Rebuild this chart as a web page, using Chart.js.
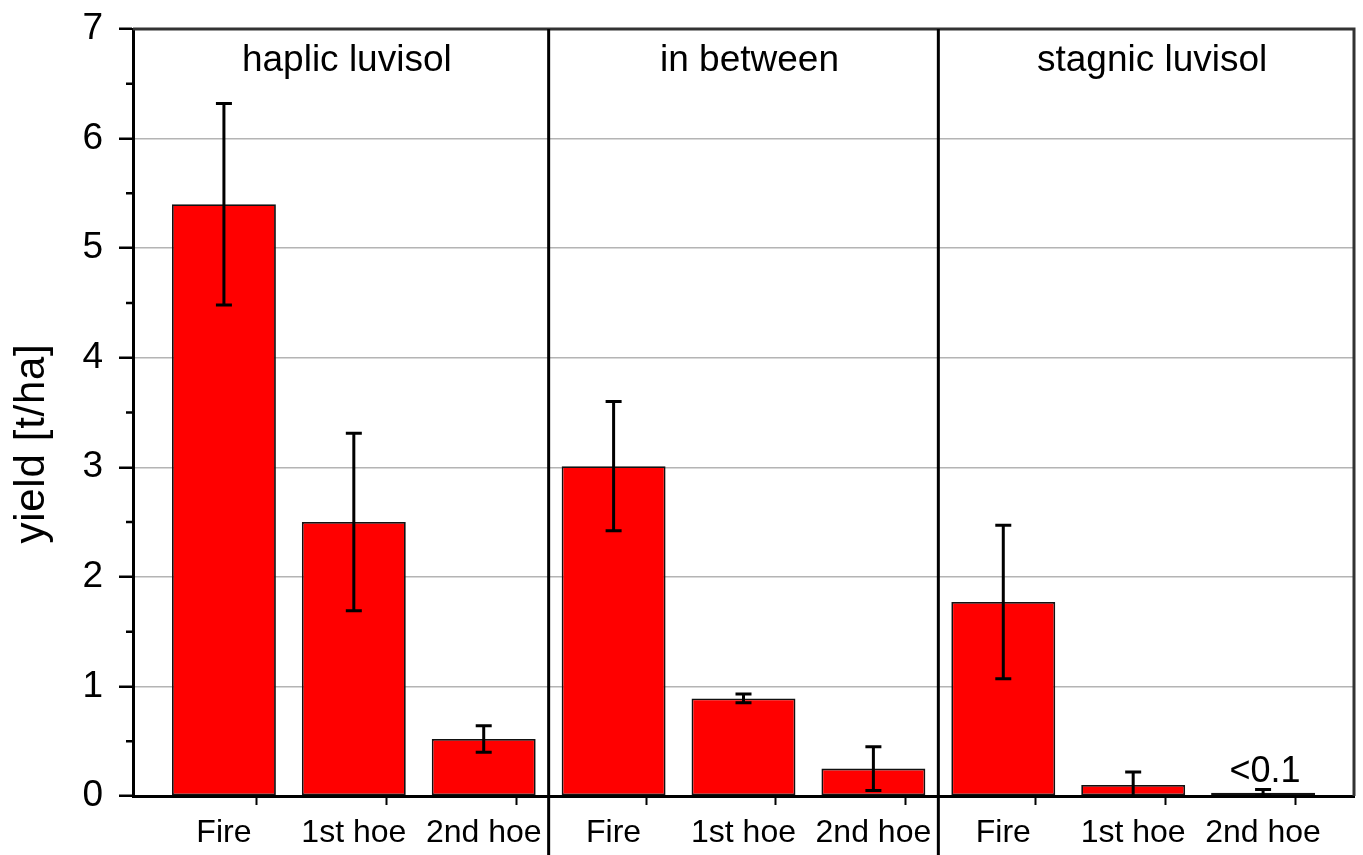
<!DOCTYPE html>
<html>
<head>
<meta charset="utf-8">
<script src="https://cdn.jsdelivr.net/npm/chart.js@4.4.1/dist/chart.umd.min.js"></script>
<style>
  html, body { margin: 0; padding: 0; background: #fff; }
  #wrap { width: 1363px; height: 855px; position: relative; }
</style>
</head>
<body>
<div id="wrap"><canvas id="c"></canvas></div>
<script>
// ---- data ----
const categories = ['Fire', '1st hoe', '2nd hoe', 'Fire', '1st hoe', '2nd hoe', 'Fire', '1st hoe', '2nd hoe'];
const groups = ['haplic luvisol', 'in between', 'stagnic luvisol'];
const yieldMean = [5.40, 2.50, 0.52, 3.01, 0.89, 0.25, 1.77, 0.10, 0.03];
const yieldErr  = [0.92, 0.81, 0.12, 0.59, 0.04, 0.20, 0.70, 0.12, 0.03];
const yTickValues = [0, 1, 2, 3, 4, 5, 6, 7];
const barNotes = ['', '', '', '', '', '', '', '', '<0.1'];
const yTitle = 'yield [t/ha]';

const FONT = '"Liberation Sans", Arial, Helvetica, sans-serif';
const nCat = categories.length;
const groupSize = 3;

// ticks at category boundaries (marks) and category centres (labels)
const xTickValues = [];
for (let i = -1; i < nCat; i++) { xTickValues.push(i + 0.5); if (i + 1 < nCat) xTickValues.push(i + 1); }

const extras = {
  id: 'extras',
  afterDatasetsDraw(chart) {
    const ctx = chart.ctx, xs = chart.scales.x, ys = chart.scales.y, area = chart.chartArea;
    ctx.save();
    ctx.strokeStyle = '#000';
    ctx.lineWidth = 3;
    ctx.lineCap = 'butt';
    for (let i = 0; i < nCat; i++) {
      const cx = xs.getPixelForValue(i);
      const yTop = ys.getPixelForValue(yieldMean[i] + yieldErr[i]);
      const yBotRaw = ys.getPixelForValue(yieldMean[i] - yieldErr[i]);
      const yBot = Math.min(yBotRaw, area.bottom);
      ctx.beginPath();
      ctx.moveTo(cx, yTop); ctx.lineTo(cx, yBot);
      ctx.moveTo(cx - 8, yTop); ctx.lineTo(cx + 8, yTop);
      if (yBotRaw <= area.bottom) { ctx.moveTo(cx - 8, yBot); ctx.lineTo(cx + 8, yBot); }
      ctx.stroke();
    }
    ctx.restore();
  },
  afterDraw(chart) {
    const ctx = chart.ctx, xs = chart.scales.x, ys = chart.scales.y, area = chart.chartArea;
    ctx.save();
    // top and right frame
    ctx.strokeStyle = '#333';
    ctx.lineWidth = 3;
    ctx.beginPath();
    ctx.moveTo(area.left, area.top); ctx.lineTo(area.right, area.top); ctx.lineTo(area.right, area.bottom);
    ctx.stroke();
    // minor y ticks
    ctx.strokeStyle = '#000';
    ctx.lineWidth = 2.5;
    ctx.beginPath();
    for (let k = 0; k < yTickValues.length - 1; k++) {
      const y = ys.getPixelForValue((yTickValues[k] + yTickValues[k + 1]) / 2);
      ctx.moveTo(area.left - 7, y); ctx.lineTo(area.left, y);
    }
    ctx.stroke();
    // group dividers
    ctx.lineWidth = 3;
    ctx.beginPath();
    for (let g = 1; g < groups.length; g++) {
      const x = xs.getPixelForValue(g * groupSize - 0.5);
      ctx.moveTo(x, area.top); ctx.lineTo(x, chart.height);
    }
    ctx.stroke();
    // group labels
    ctx.fillStyle = '#000';
    ctx.font = '37px ' + FONT;
    ctx.textAlign = 'center';
    ctx.textBaseline = 'alphabetic';
    for (let g = 0; g < groups.length; g++) {
      const l = g === 0 ? area.left : xs.getPixelForValue(g * groupSize - 0.5);
      const r = g === groups.length - 1 ? area.right : xs.getPixelForValue((g + 1) * groupSize - 0.5);
      ctx.fillText(groups[g], (l + r) / 2 + 6, area.top + 42);
    }
    // bar notes
    ctx.font = '36px ' + FONT;
    for (let i = 0; i < nCat; i++) {
      if (!barNotes[i]) continue;
      const cx = xs.getPixelForValue(i);
      const yTop = ys.getPixelForValue(yieldMean[i] + yieldErr[i]);
      ctx.fillText(barNotes[i], cx + 2, yTop - 7);
    }
    // y axis title
    ctx.save();
    ctx.translate(44, (area.top + area.bottom) / 2 + 31);
    ctx.rotate(-Math.PI / 2);
    ctx.font = '42px ' + FONT;
    try { ctx.letterSpacing = '0.7px'; } catch (e) {}
    ctx.textAlign = 'center';
    ctx.textBaseline = 'alphabetic';
    ctx.fillText(yTitle, 0, 0);
    ctx.restore();
    ctx.restore();
  }
};

new Chart(document.getElementById('c'), {
  type: 'bar',
  data: {
    datasets: [{
      data: yieldMean.map((v, i) => ({ x: i, y: v })),
      backgroundColor: '#ff0000',
      borderColor: '#111',
      borderWidth: 1.8,
      borderSkipped: false,
      categoryPercentage: 1.0,
      // tick spacing is half a category (boundary + centre ticks), so 1.6 = 80% of a category
      barPercentage: 1.6
    }]
  },
  options: {
    responsive: true,
    maintainAspectRatio: false,
    animation: false,
    layout: { padding: { left: 0, right: 9, top: 29, bottom: 0 } },
    plugins: { legend: { display: false }, tooltip: { enabled: false } },
    scales: {
      x: {
        type: 'linear',
        offset: false,
        min: -0.7,
        max: nCat - 0.3,
        afterBuildTicks(scale) { scale.ticks = xTickValues.map(v => ({ value: v })); },
        afterFit(scale) { scale.height = 59; scale.paddingLeft = 0; scale.paddingRight = 0; },
        ticks: {
          autoSkip: false,
          maxRotation: 0,
          padding: 9,
          color: '#000',
          font: { family: FONT, size: 32 },
          callback: (v) => Number.isInteger(v) ? categories[v] : ''
        },
        grid: {
          drawOnChartArea: false,
          drawTicks: true,
          tickLength: 9,
          tickWidth: 2,
          tickColor: (ctx) => (ctx.tick && Number.isInteger(ctx.tick.value)) ? 'rgba(0,0,0,0)' : '#000'
        },
        border: { display: true, color: '#000', width: 3 }
      },
      y: {
        min: 0,
        max: 7,
        afterBuildTicks(scale) { scale.ticks = yTickValues.map(v => ({ value: v })); },
        afterFit(scale) { scale.width = 133; scale.paddingTop = 0; scale.paddingBottom = 0; },
        ticks: {
          padding: 16,
          color: '#000',
          font: { family: FONT, size: 37 },
          callback: (v) => String(v)
        },
        grid: {
          color: (ctx) => (ctx.tick && (ctx.tick.value === 0 || ctx.tick.value === 7)) ? 'rgba(0,0,0,0)' : '#b4b4b4',
          lineWidth: 1.5,
          tickLength: 14,
          tickWidth: 2.5,
          tickColor: '#000'
        },
        border: { display: true, color: '#000', width: 3 },
        title: { display: false }
      }
    }
  },
  plugins: [extras]
});
</script>
</body>
</html>
